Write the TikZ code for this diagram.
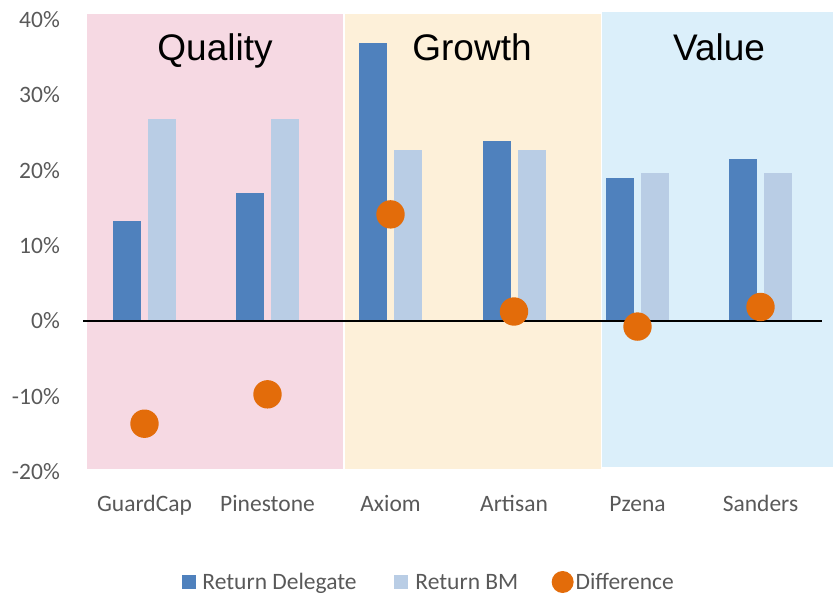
\documentclass[tikz,border=0pt]{standalone}
\usepackage{fontspec}
\setmainfont{Carlito}
\newfontfamily\titlefont{Liberation Sans}
\usetikzlibrary{positioning}
\definecolor{delegateBlue}{RGB}{79,129,189}
\definecolor{bmBlue}{RGB}{185,205,229}
\definecolor{diffOrange}{RGB}{227,108,10}
\definecolor{qualityPink}{RGB}{246,217,227}
\definecolor{growthCream}{RGB}{253,240,217}
\definecolor{valueSky}{RGB}{219,239,250}
\definecolor{axisGray}{RGB}{89,89,89}

\begin{document}
\begin{tikzpicture}[x=1pt,y=-1pt]
\tikzset{myFont/.style={font=\fontsize{23.5}{26}\selectfont,text=axisGray}}
\tikzset{myTick/.style={myFont,anchor=east,inner sep=0pt,text height=15pt,text depth=0pt}}
\tikzset{myCat/.style={myFont,anchor=base}}
\tikzset{myTitle/.style={font=\titlefont\fontsize{37}{40}\selectfont,anchor=base}}
\tikzset{myKey/.style={draw=none,inner sep=0pt,minimum size=14pt}}
\tikzset{myLegend/.style={myFont,inner sep=0pt,text height=17pt,text depth=3pt}}

\useasboundingbox (0,0) rectangle (833,594);

% style bands
\fill[qualityPink] (87,14) rectangle (343,469);
\fill[growthCream] (345,14) rectangle (601,469);
\fill[valueSky] (602,12) rectangle (833,467);

\node[myTitle] (quality) at (215,61) {Quality};
\node[myTitle] (growth) at (472,61) {Growth};
\node[myTitle] (value) at (719,61) {Value};

% y axis
\foreach \v/\n in {40/t40,30/t30,20/t20,10/t10,0/t0,-10/tm10,-20/tm20}
  \node[myTick] (\n) at (60,{321.3-7.53*\v}) {\v\%};

% bars and differences
\begin{scope}[shift={(0,321.3)},y=7.53pt]
\foreach \c/\d/\b/\f in {144.5/13.3/26.8/-13.6,267.5/17.1/26.8/-9.7,390.5/36.9/22.7/14.2,
                         514/24.0/22.7/1.3,637.5/19.0/19.7/-0.7,760.5/21.5/19.7/1.9}{
  \fill[delegateBlue] ({\c-31.5},0) rectangle ({\c-3.5},\d);
  \fill[bmBlue] ({\c+3.5},0) rectangle ({\c+31.5},\b);
}
\end{scope}

\coordinate (zeroL) at (83,321.3);
\coordinate (zeroR) at (822,321.3);
\draw[black,line width=2pt] (zeroL) -- (zeroR);

\begin{scope}[shift={(0,321.3)},y=7.53pt]
\foreach \c/\f in {144.5/-13.6,267.5/-9.7,390.5/14.2,514/1.3,637.5/-0.7,760.5/1.9}
  \fill[diffOrange] (\c,\f) circle[radius=14.2pt];
\end{scope}

% categories
\foreach \c/\n/\t in {144.5/guardcap/GuardCap,267.5/pinestone/Pinestone,390.5/axiom/Axiom,
                      514/artisan/Artisan,637.5/pzena/Pzena,760.5/sanders/Sanders}
  \node[myCat] (\n) at (\c,511.5) {\t};

% legend
\node[myKey,fill=delegateBlue] (keyDelegate) at (189,582) {};
\node[myLegend,right=6pt of keyDelegate] (txtDelegate) {Return Delegate};
\node[myKey,fill=bmBlue,right=37pt of txtDelegate] (keyBM) {};
\node[myLegend,right=7pt of keyBM] (txtBM) {Return BM};
\node[myKey,circle,fill=diffOrange,minimum size=22pt,right=33pt of txtBM] (keyDiff) {};
\node[myLegend,right=1.5pt of keyDiff] (txtDiff) {Difference};

\end{tikzpicture}
\end{document}
